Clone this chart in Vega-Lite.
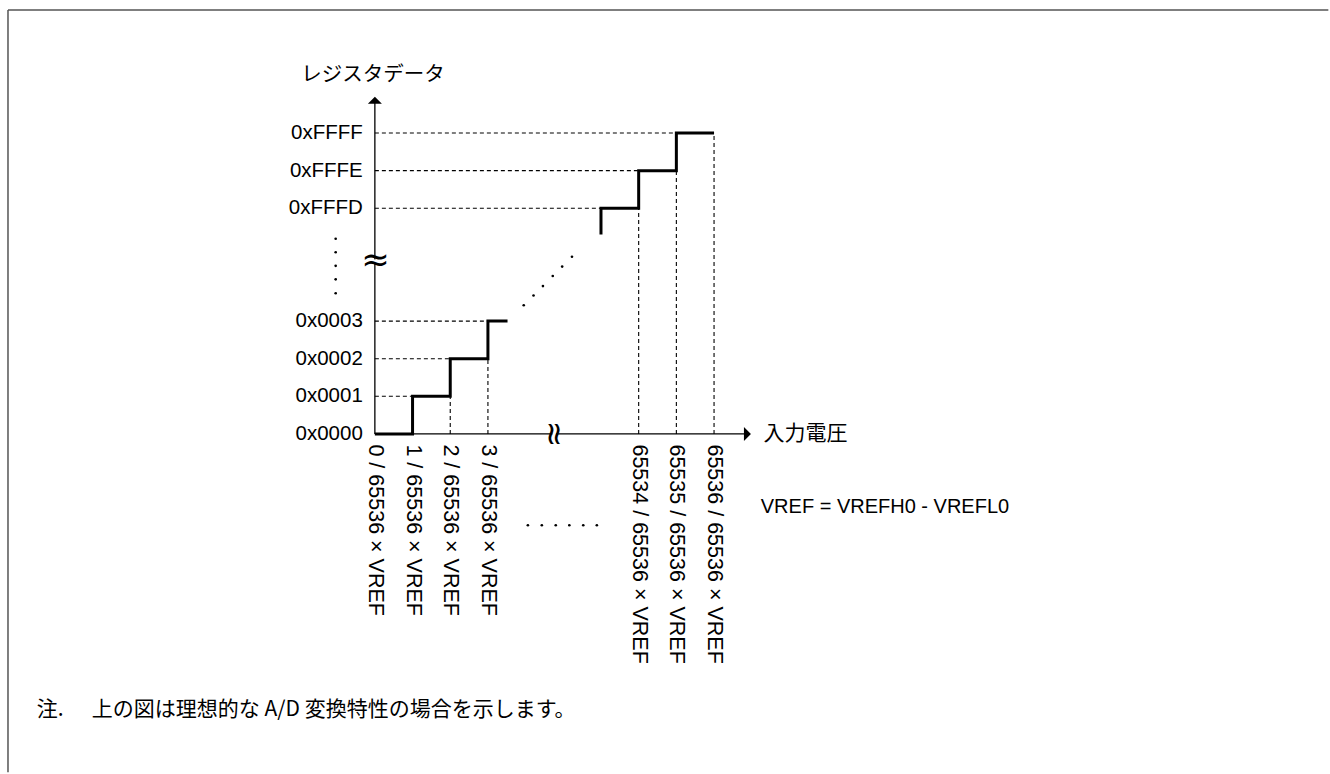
{
  "$schema": "https://vega.github.io/schema/vega-lite/v6.json",
  "width": 1330,
  "height": 774,
  "autosize": {"type": "fit", "contains": "padding"},
  "padding": 0,
  "background": "white",
  "config": {"view": {"stroke": null}},
  "encoding": {
    "x": {"field": "x", "type": "quantitative", "scale": {"domain": [-9.947, 25.238], "nice": false, "zero": false}, "axis": null},
    "y": {"field": "y", "type": "quantitative", "scale": {"domain": [-8.884, 11.538], "nice": false, "zero": false}, "axis": null}
  },
  "layer": [
    {
      "data": {"values": [
        {"x": -9.735, "y": 11.274, "x2": 25.3, "y2": 11.274},
        {"x": -9.735, "y": 11.274, "x2": -9.735, "y2": -9}
      ]},
      "mark": {"type": "rule", "color": "#555555", "strokeWidth": 1.5},
      "encoding": {"x2": {"field": "x2"}, "y2": {"field": "y2"}}
    },
    {
      "data": {"values": [
        {"x": 0, "y": 1, "x2": 1, "y2": 1},
        {"x": 0, "y": 2, "x2": 2, "y2": 2},
        {"x": 0, "y": 3, "x2": 3, "y2": 3},
        {"x": 0, "y": 6, "x2": 6, "y2": 6},
        {"x": 0, "y": 7, "x2": 7, "y2": 7},
        {"x": 0, "y": 8, "x2": 8, "y2": 8},
        {"x": 2, "y": 0, "x2": 2, "y2": 1},
        {"x": 3, "y": 0, "x2": 3, "y2": 2},
        {"x": 7, "y": 0, "x2": 7, "y2": 6},
        {"x": 8, "y": 0, "x2": 8, "y2": 7},
        {"x": 9, "y": 0, "x2": 9, "y2": 8}
      ]},
      "mark": {"type": "rule", "color": "black", "strokeWidth": 1.1, "strokeDash": [4, 3]},
      "encoding": {"x2": {"field": "x2"}, "y2": {"field": "y2"}}
    },
    {
      "data": {"values": [
        {"x": 0, "y": 0, "x2": 0, "y2": 8.87},
        {"x": 0, "y": 0, "x2": 9.8, "y2": 0}
      ]},
      "mark": {"type": "rule", "color": "black", "strokeWidth": 1.3},
      "encoding": {"x2": {"field": "x2"}, "y2": {"field": "y2"}}
    },
    {
      "data": {"values": [{"x": 0, "y": 8.873}]},
      "mark": {"type": "point", "shape": "M-1,0.5L1,0.5L0,-0.5Z", "filled": true, "size": 196, "color": "black", "opacity": 1, "strokeWidth": 0}
    },
    {
      "data": {"values": [{"x": 9.886, "y": 0}]},
      "mark": {"type": "point", "shape": "M-0.5,-1L0.5,0L-0.5,1Z", "filled": true, "size": 196, "color": "black", "opacity": 1, "strokeWidth": 0}
    },
    {
      "data": {"values": [
        {"x": 0, "y": 4.54, "x2": 0, "y2": 4.64},
        {"x": 4.71, "y": 0, "x2": 4.81, "y2": 0}
      ]},
      "mark": {"type": "rule", "color": "white", "strokeWidth": 4},
      "encoding": {"x2": {"field": "x2"}, "y2": {"field": "y2"}}
    },
    {
      "data": {"values": [{"x": 0.02, "y": 4.59, "t": "≈"}]},
      "mark": {"type": "text", "font": "DejaVu Sans", "fontSize": 34, "align": "center", "baseline": "middle", "color": "black"},
      "encoding": {"text": {"field": "t"}}
    },
    {
      "data": {"values": [{"x": 4.76, "y": 0.0, "t": "≈"}]},
      "mark": {"type": "text", "font": "DejaVu Sans", "fontSize": 32, "align": "center", "baseline": "middle", "angle": 90, "color": "black"},
      "encoding": {"text": {"field": "t"}}
    },
    {
      "data": {"values": [
        {"s": "a", "o": 1, "x": 0, "y": 0},
        {"s": "a", "o": 2, "x": 1, "y": 0},
        {"s": "a", "o": 3, "x": 1, "y": 1},
        {"s": "a", "o": 4, "x": 2, "y": 1},
        {"s": "a", "o": 5, "x": 2, "y": 2},
        {"s": "a", "o": 6, "x": 3, "y": 2},
        {"s": "a", "o": 7, "x": 3, "y": 3},
        {"s": "a", "o": 8, "x": 3.52, "y": 3},
        {"s": "b", "o": 1, "x": 6, "y": 5.3},
        {"s": "b", "o": 2, "x": 6, "y": 6},
        {"s": "b", "o": 3, "x": 7, "y": 6},
        {"s": "b", "o": 4, "x": 7, "y": 7},
        {"s": "b", "o": 5, "x": 8, "y": 7},
        {"s": "b", "o": 6, "x": 8, "y": 8},
        {"s": "b", "o": 7, "x": 9, "y": 8}
      ]},
      "mark": {"type": "line", "color": "black", "strokeWidth": 3, "strokeJoin": "miter"},
      "encoding": {"detail": {"field": "s"}, "order": {"field": "o", "type": "quantitative"}}
    },
    {
      "data": {"values": [
        {"x": -1.04, "y": 5.19}, {"x": -1.04, "y": 4.83}, {"x": -1.04, "y": 4.47}, {"x": -1.04, "y": 4.11}, {"x": -1.04, "y": 3.74},
        {"x": 3.95, "y": 3.42}, {"x": 4.21, "y": 3.68}, {"x": 4.46, "y": 3.93}, {"x": 4.72, "y": 4.20}, {"x": 4.97, "y": 4.45}, {"x": 5.23, "y": 4.71},
        {"x": 4.06, "y": -2.43}, {"x": 4.43, "y": -2.43}, {"x": 4.80, "y": -2.43}, {"x": 5.16, "y": -2.43}, {"x": 5.53, "y": -2.43}, {"x": 5.89, "y": -2.43}
      ]},
      "mark": {"type": "point", "shape": "circle", "filled": true, "size": 7, "color": "black", "opacity": 1, "strokeWidth": 0}
    },
    {
      "data": {"values": [
        {"x": -0.32, "y": 0, "t": "0x0000"},
        {"x": -0.32, "y": 1, "t": "0x0001"},
        {"x": -0.32, "y": 2, "t": "0x0002"},
        {"x": -0.32, "y": 3, "t": "0x0003"},
        {"x": -0.32, "y": 6, "t": "0xFFFD"},
        {"x": -0.32, "y": 7, "t": "0xFFFE"},
        {"x": -0.32, "y": 8, "t": "0xFFFF"}
      ]},
      "mark": {"type": "text", "font": "Liberation Sans", "fontSize": 20.5, "align": "right", "baseline": "middle", "color": "black"},
      "encoding": {"text": {"field": "t"}}
    },
    {
      "data": {"values": [
        {"x": 0, "y": -0.28, "t": "0 / 65536 × VREF"},
        {"x": 1, "y": -0.28, "t": "1 / 65536 × VREF"},
        {"x": 2, "y": -0.28, "t": "2 / 65536 × VREF"},
        {"x": 3, "y": -0.28, "t": "3 / 65536 × VREF"},
        {"x": 7, "y": -0.28, "t": "65534 / 65536 × VREF"},
        {"x": 8, "y": -0.28, "t": "65535 / 65536 × VREF"},
        {"x": 9, "y": -0.28, "t": "65536 / 65536 × VREF"}
      ]},
      "mark": {"type": "text", "font": "Liberation Sans", "fontSize": 21.5, "align": "left", "baseline": "middle", "angle": 90, "color": "black"},
      "encoding": {"text": {"field": "t"}}
    },
    {
      "data": {"values": [{"x": -0.05, "y": 9.54, "t": "レジスタデータ"}]},
      "mark": {"type": "text", "font": "Noto Sans CJK JP", "fontSize": 20.5, "align": "center", "baseline": "middle", "color": "black"},
      "encoding": {"text": {"field": "t"}}
    },
    {
      "data": {"values": [{"x": 10.31, "y": 0.0, "t": "入力電圧"}]},
      "mark": {"type": "text", "font": "Noto Sans CJK JP", "fontSize": 21, "align": "left", "baseline": "middle", "color": "black"},
      "encoding": {"text": {"field": "t"}}
    },
    {
      "data": {"values": [{"x": 10.24, "y": -1.945, "t": "VREF = VREFH0 - VREFL0"}]},
      "mark": {"type": "text", "font": "Liberation Sans", "fontSize": 20, "align": "left", "baseline": "middle", "color": "black"},
      "encoding": {"text": {"field": "t"}}
    },
    {
      "data": {"values": [
        {"x": -8.97, "y": -7.33, "t": "注."},
        {"x": -7.51, "y": -7.33, "t": "上の図は理想的な A/D 変換特性の場合を示します。"}
      ]},
      "mark": {"type": "text", "font": "Noto Sans CJK JP", "fontSize": 21, "align": "left", "baseline": "middle", "color": "black"},
      "encoding": {"text": {"field": "t"}}
    }
  ]
}
